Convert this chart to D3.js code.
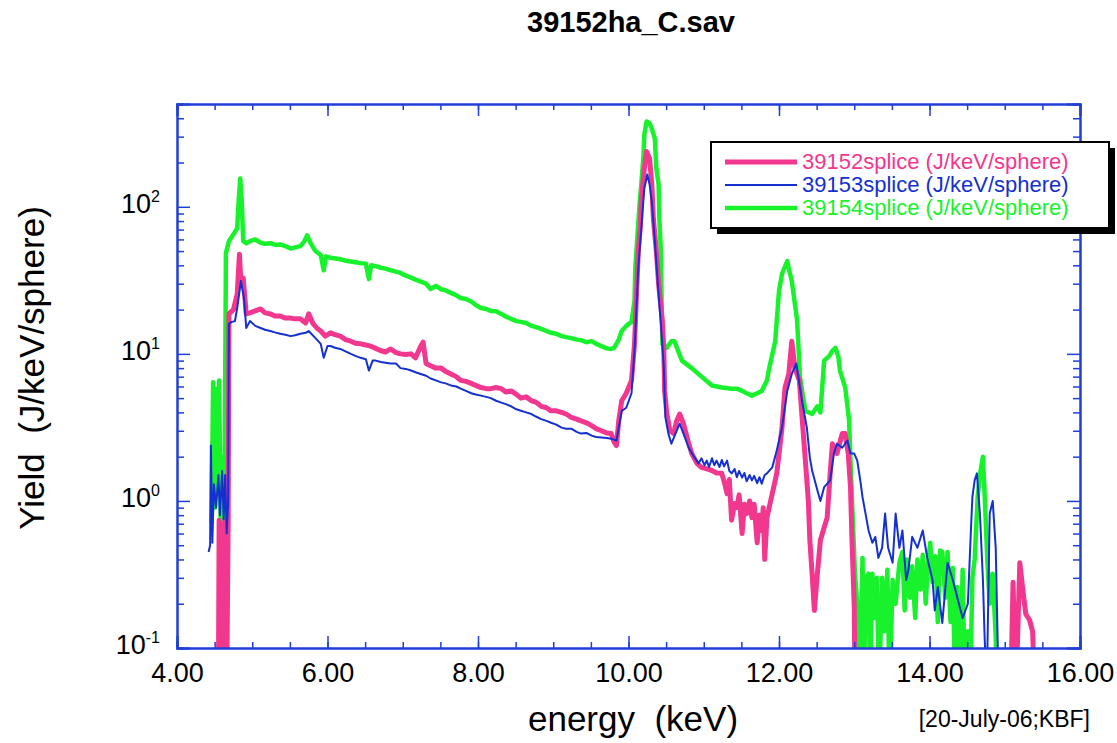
<!DOCTYPE html>
<meta charset="utf-8">
<script src="https://d3js.org/d3.v7.min.js"></script>
<style>
  body { margin: 0; background: #fff; }
  text { font-family: "Liberation Sans", Arial, Helvetica, sans-serif; }
</style>
<body>
<div id="chart"></div>
<script>
// ---- data: [energy keV, yield J/keV/sphere] ----
// values below 0.1 mean the trace drops out of the bottom of the plot
var shot39152 = [
  [4.55,0.05],[4.56,0.74],[4.58,0.05],[4.60,0.70],[4.62,0.05],[4.64,0.74],[4.66,0.05],[4.68,0.72],
  [4.69,18.7],[4.75,20],[4.80,25.5],[4.83,47.6],[4.85,30],[4.88,32.8],[4.92,18.7],[4.97,19],
  [5.04,19.6],[5.11,20.2],[5.17,19],[5.24,18.7],[5.30,18.1],[5.37,18.1],[5.44,17.5],[5.51,17.5],
  [5.57,17.3],[5.64,17.3],[5.71,16.2],[5.75,18.7],[5.81,16],[5.87,14.8],[5.91,14.3],[5.97,13.2],
  [6.04,13.9],[6.10,13.5],[6.17,13.2],[6.24,12.5],[6.31,12.2],[6.37,11.8],[6.44,11.7],[6.51,11.5],
  [6.57,11.3],[6.64,10.9],[6.71,10.5],[6.77,10.3],[6.84,10.8],[6.91,10.2],[6.97,10.0],[7.04,9.9],
  [7.11,10.0],[7.17,9.4],[7.24,11.3],[7.27,12.0],[7.31,8.6],[7.37,8.3],[7.44,8.0],[7.51,8.0],
  [7.57,7.6],[7.64,7.3],[7.71,7.0],[7.77,6.6],[7.84,6.5],[7.91,6.3],[7.97,6.1],[8.04,5.9],
  [8.11,5.8],[8.17,5.8],[8.24,5.9],[8.31,5.8],[8.37,5.5],[8.44,5.6],[8.51,5.3],[8.57,5.0],
  [8.64,5.1],[8.71,4.8],[8.77,4.7],[8.84,4.4],[8.91,4.3],[8.97,4.1],[9.04,4.1],[9.11,4.0],
  [9.17,3.9],[9.24,3.7],[9.31,3.6],[9.37,3.5],[9.44,3.4],[9.51,3.25],[9.57,3.1],[9.64,3.0],
  [9.71,2.9],[9.77,2.87],[9.81,2.5],[9.84,2.38],[9.87,3.5],[9.91,4.8],[9.97,5.4],[10.04,6.6],
  [10.08,11.7],[10.11,28],[10.13,49.9],[10.16,76],[10.17,109],[10.21,182],[10.24,238],[10.28,213],
  [10.31,142],[10.33,83.6],[10.37,49.9],[10.40,29.8],[10.45,16.7],[10.47,10.5],[10.48,5.6],[10.51,3.9],
  [10.55,3.0],[10.60,2.87],[10.64,3.5],[10.68,3.9],[10.73,3.35],[10.79,2.57],[10.84,2.1],[10.91,1.8],
  [10.97,1.69],[11.04,1.65],[11.11,1.61],[11.17,1.55],[11.24,1.54],[11.28,1.3],[11.31,1.12],[11.34,1.4],
  [11.37,0.74],[11.41,0.96],[11.44,0.90],[11.47,1.1],[11.51,0.60],[11.54,0.95],[11.57,0.82],[11.61,1.0],
  [11.64,0.77],[11.67,0.95],[11.71,0.52],[11.74,0.8],[11.77,0.63],[11.79,0.9],[11.81,0.40],[11.84,0.77],
  [11.91,1.12],[11.97,1.54],[12.04,3.15],[12.08,5.9],[12.13,7.3],[12.17,12.2],[12.21,8.0],[12.27,6.6],
  [12.31,3.5],[12.35,1.9],[12.39,1.0],[12.41,0.54],[12.44,0.32],[12.47,0.18],[12.51,0.32],[12.55,0.54],
  [12.60,0.66],[12.64,0.77],[12.68,1.54],[12.71,2.45],[12.77,2.1],[12.84,2.87],[12.88,2.87],[12.92,2.1],
  [12.95,1.24],[12.97,0.54],[13.00,0.19],[13.01,0.05],[15.08,0.05],[15.11,0.28],[15.15,0.05],[15.20,0.38],
  [15.24,0.25],[15.28,0.17],[15.33,0.155],[15.37,0.13],[15.40,0.05]
];

var shot39153 = [
  [4.42,0.45],[4.44,0.50],[4.45,2.38],[4.47,0.52],[4.49,1.3],[4.52,0.9],[4.55,1.5],[4.57,0.8],
  [4.60,1.6],[4.62,0.75],[4.64,1.5],[4.66,0.6],[4.68,1.0],[4.69,16],[4.73,16.5],[4.77,16.7],
  [4.80,20.5],[4.85,31.3],[4.89,24],[4.92,15],[4.97,16.7],[5.04,15.5],[5.11,15],[5.17,14.6],
  [5.24,14.3],[5.30,14],[5.37,13.7],[5.44,13.5],[5.51,13.2],[5.57,13.4],[5.64,13.7],[5.71,13.9],
  [5.75,14.3],[5.84,12.8],[5.91,11.7],[5.95,9.4],[6.00,11.3],[6.04,11.3],[6.10,11],[6.17,10.8],
  [6.24,10.4],[6.31,10.0],[6.37,9.7],[6.44,9.4],[6.51,9.2],[6.55,7.7],[6.60,9.0],[6.64,9.0],
  [6.71,8.8],[6.77,8.7],[6.84,8.6],[6.91,8.6],[6.97,8.0],[7.04,7.9],[7.11,7.7],[7.17,7.5],
  [7.24,7.3],[7.31,7.1],[7.37,6.8],[7.44,6.6],[7.51,6.4],[7.57,6.3],[7.64,6.1],[7.71,6.0],
  [7.77,5.8],[7.84,5.6],[7.91,5.4],[7.97,5.3],[8.04,5.2],[8.11,5.1],[8.17,5.0],[8.24,4.8],
  [8.31,4.66],[8.37,4.55],[8.44,4.4],[8.51,4.2],[8.57,4.1],[8.64,4.0],[8.71,3.9],[8.77,3.75],
  [8.84,3.6],[8.91,3.5],[8.97,3.4],[9.04,3.3],[9.11,3.15],[9.17,3.1],[9.24,3.1],[9.31,2.95],
  [9.37,2.87],[9.44,2.9],[9.51,2.78],[9.57,2.72],[9.64,2.7],[9.71,2.68],[9.77,2.65],[9.84,2.57],
  [9.87,3.15],[9.91,4.1],[9.97,4.3],[10.04,5.4],[10.08,10.5],[10.11,22.9],[10.13,38.3],[10.17,71.5],
  [10.21,133],[10.25,166],[10.28,142],[10.31,109],[10.35,58.4],[10.39,29.8],[10.44,13.7],[10.47,8.0],
  [10.49,3.7],[10.53,2.87],[10.57,2.45],[10.64,3.0],[10.68,3.35],[10.73,2.87],[10.80,2.3],[10.87,2.0],
  [10.93,1.8],[10.97,1.95],[11.01,1.75],[11.04,1.88],[11.07,1.7],[11.11,1.95],[11.14,1.75],[11.17,1.88],
  [11.21,1.7],[11.24,1.9],[11.27,1.72],[11.31,1.88],[11.34,1.6],[11.37,1.54],[11.41,1.65],[11.44,1.45],
  [11.47,1.6],[11.51,1.44],[11.54,1.55],[11.57,1.36],[11.61,1.5],[11.64,1.38],[11.67,1.48],[11.71,1.32],
  [11.74,1.45],[11.77,1.31],[11.81,1.5],[11.84,1.54],[11.91,1.69],[11.97,2.2],
  [12.04,3.15],[12.11,5.6],[12.17,7.3],[12.23,8.6],[12.27,6.3],[12.31,4.66],[12.37,3.15],[12.41,1.97],
  [12.44,1.61],[12.51,1.18],[12.55,1.0],[12.60,1.24],[12.68,1.38],[12.73,2.1],[12.77,2.45],[12.84,2.3],
  [12.91,2.57],[12.95,2.1],[13.00,2.1],[13.04,1.88],[13.08,1.38],[13.11,1.06],[13.15,0.82],[13.19,0.63],
  [13.24,0.52],[13.28,0.57],[13.32,0.41],[13.37,0.48],[13.41,0.82],[13.45,0.48],[13.51,0.38],[13.55,0.82],
  [13.60,0.48],[13.64,0.63],[13.69,0.29],[13.72,0.34],[13.77,0.57],[13.84,0.48],[13.91,0.63],[13.97,0.41],
  [14.04,0.29],[14.07,0.18],[14.11,0.26],[14.17,0.148],[14.24,0.38],[14.31,0.29],[14.37,0.22],[14.44,0.16],
  [14.51,0.20],[14.55,0.63],[14.57,1.06],[14.60,1.38],[14.63,1.54],[14.67,0.82],[14.71,0.29],[14.73,0.13],
  [14.76,0.05],[14.80,0.82],[14.84,1.0],[14.88,0.48],[14.92,0.05]
];

var shot39154 = [
  [4.46,0.70],[4.48,6.4],[4.50,0.9],[4.52,5.8],[4.54,1.2],[4.56,6.6],[4.58,0.74],[4.60,2.0],
  [4.63,0.72],[4.65,48.4],[4.69,58.4],[4.75,65],[4.80,71.5],[4.82,110],[4.84,156],[4.86,110],
  [4.88,58.4],[4.92,56.6],[4.97,58.4],[5.04,60],[5.11,57],[5.17,56],[5.24,56.6],[5.31,55],
  [5.37,55.5],[5.44,54],[5.51,52],[5.57,53],[5.64,54],[5.69,58],[5.73,64],[5.78,56],
  [5.84,50],[5.91,47],[5.95,37],[5.98,46],[6.04,45],[6.11,44.5],[6.17,44],[6.24,43],
  [6.31,42.5],[6.37,42],[6.44,41.4],[6.51,41],[6.55,32.3],[6.58,40],[6.64,39.5],[6.71,38.5],
  [6.77,38],[6.84,37],[6.91,36.2],[6.97,35.5],[7.04,34],[7.11,33],[7.17,32],[7.24,31],
  [7.31,30],[7.37,27.6],[7.44,29],[7.51,27.5],[7.57,27],[7.64,26],[7.71,25],[7.77,24],
  [7.84,23.6],[7.91,22.7],[7.97,21.5],[8.04,20.5],[8.11,20.2],[8.17,19.6],[8.24,19.5],[8.31,18.7],
  [8.37,17.9],[8.44,17.3],[8.51,16.7],[8.57,16.5],[8.64,16.2],[8.71,15.5],[8.77,15.2],[8.84,14.8],
  [8.91,14.3],[8.97,13.9],[9.04,13.7],[9.11,13.2],[9.17,13.0],[9.24,12.8],[9.31,12.5],[9.37,12.4],
  [9.44,12.0],[9.51,12.2],[9.57,11.7],[9.64,11.3],[9.71,10.9],[9.77,10.8],[9.81,11.0],[9.87,12.5],
  [9.91,14.3],[9.97,15.5],[10.04,16.5],[10.08,22.9],[10.09,38.3],[10.12,65],[10.15,109],[10.17,142],
  [10.20,227],[10.21,310],[10.24,380],[10.28,370],[10.31,340],[10.35,291],[10.37,182],[10.40,142],
  [10.41,83.6],[10.43,49.9],[10.44,22.9],[10.45,11.7],[10.51,11.0],[10.57,12.2],[10.61,12.2],[10.71,9.0],
  [10.84,8.0],[10.97,7.0],[11.11,6.1],[11.24,5.9],[11.37,5.8],[11.44,5.8],[11.51,5.6],[11.57,5.4],
  [11.64,5.2],[11.71,5.4],[11.77,5.6],[11.84,6.6],[11.87,8.0],[11.95,12.2],[12.00,26.7],[12.04,35],
  [12.11,42.7],[12.13,38],[12.17,31.3],[12.24,17],[12.28,6.9],[12.35,4.1],[12.44,3.9],[12.51,4.4],
  [12.55,4.0],[12.60,9.0],[12.67,9.7],[12.71,10.5],[12.75,11.0],[12.79,9.5],[12.81,7.7],[12.88,5.9],
  [12.93,3.6],[12.97,1.0],[13.01,0.32],[13.04,0.2],[13.07,0.05],[13.11,0.41],[13.13,0.05],[13.15,0.30],
  [13.19,0.32],[13.21,0.05],[13.24,0.32],[13.27,0.16],[13.30,0.30],[13.33,0.05],[13.37,0.30],[13.40,0.13],
  [13.44,0.34],[13.47,0.05],[13.51,0.29],[13.55,0.20],[13.60,0.38],[13.64,0.45],[13.67,0.18],[13.70,0.40],
  [13.74,0.22],[13.77,0.36],[13.81,0.16],[13.84,0.40],[13.88,0.25],[13.91,0.43],[13.95,0.20],[13.98,0.38],
  [14.01,0.52],[14.04,0.28],[14.08,0.42],[14.11,0.15],[14.14,0.46],[14.17,0.45],[14.21,0.22],[14.24,0.45],
  [14.28,0.15],[14.31,0.35],[14.34,0.05],[14.37,0.26],[14.41,0.05],[14.44,0.34],[14.47,0.05],[14.51,0.13],
  [14.54,0.05],[14.57,0.30],[14.60,0.40],[14.64,1.06],[14.67,1.5],[14.71,2.0],[14.73,1.2],[14.77,0.38],
  [14.80,0.20],[14.84,0.32],[14.88,0.12],[14.90,0.05]
];

var seriesNames = ["39152splice (J/keV/sphere)", "39153splice (J/keV/sphere)", "39154splice (J/keV/sphere)"];
var xMajorTicks = [4, 6, 8, 10, 12, 14, 16];
var yDecades = [0.1, 1, 10, 100];
var yDecadeLabels = [["10", "-1"], ["10", "0"], ["10", "1"], ["10", "2"]];

// ---- layout ----
var W = 1117, H = 743;
var plot = { left: 177, right: 1080, top: 104, bottom: 648 };
var axisBlue = "#1f3fd6";
var colors = ["#f2378f", "#1430d0", "#18f22c"];
var widths = [5, 2, 4.5];

var svg = d3.select("#chart").append("svg")
    .attr("width", W)
    .attr("height", H);

var x = d3.scaleLinear().domain([4, 16]).range([plot.left, plot.right]);
var y = d3.scaleLog().domain([0.1, 500]).range([plot.bottom, plot.top]);

// minor ticks
var xMinor = d3.range(4, 16.01, 0.5);
var yMinor = [];
yDecades.forEach(function(d) {
  for (var k = 2; k <= 9; k++) if (d * k <= 500) yMinor.push(d * k);
});

svg.append("clipPath").attr("id", "clip")
  .append("rect")
    .attr("x", plot.left).attr("y", plot.top)
    .attr("width", plot.right - plot.left).attr("height", plot.bottom - plot.top);

// draw the traces (green under, then pink, blue on top)
var line = d3.line()
    .x(function(d) { return x(d[0]); })
    .y(function(d) { return y(Math.max(d[1], 0.03)); });

var traces = [shot39152, shot39153, shot39154];
[2, 0, 1].forEach(function(i) {
  svg.append("path")
    .datum(traces[i])
    .attr("clip-path", "url(#clip)")
    .attr("fill", "none")
    .attr("stroke", colors[i])
    .attr("stroke-width", widths[i])
    .attr("stroke-linejoin", "round")
    .attr("d", line);
});

// ---- axes (ticks pointing inside on all four sides) ----
function styleAxis(g) {
  g.selectAll("path").attr("stroke", axisBlue).attr("stroke-width", 2);
  g.selectAll("line").attr("stroke", axisBlue).attr("stroke-width", 1.5);
}

// bottom
svg.append("g").attr("transform", "translate(0," + plot.bottom + ")")
  .call(d3.axisBottom(x).tickValues(xMinor).tickSize(-6).tickFormat(""))
  .call(styleAxis);
var xb = svg.append("g").attr("transform", "translate(0," + plot.bottom + ")")
  .call(d3.axisBottom(x).tickValues(xMajorTicks).tickSize(-12).tickPadding(15)
    .tickFormat(function(d) { return d3.format(".2f")(d); }))
  .call(styleAxis);
xb.selectAll("text").attr("fill", "#000").style("font-size", "27px");

// top
svg.append("g").attr("transform", "translate(0," + plot.top + ")")
  .call(d3.axisTop(x).tickValues(xMinor).tickSize(-6).tickFormat(""))
  .call(styleAxis);
svg.append("g").attr("transform", "translate(0," + plot.top + ")")
  .call(d3.axisTop(x).tickValues(xMajorTicks).tickSize(-12).tickFormat(""))
  .call(styleAxis);

// left
svg.append("g").attr("transform", "translate(" + plot.left + ",0)")
  .call(d3.axisLeft(y).tickValues(yMinor).tickSize(-7).tickFormat(""))
  .call(styleAxis);
svg.append("g").attr("transform", "translate(" + plot.left + ",0)")
  .call(d3.axisLeft(y).tickValues(yDecades).tickSize(-13).tickFormat(""))
  .call(styleAxis);

// right
svg.append("g").attr("transform", "translate(" + plot.right + ",0)")
  .call(d3.axisRight(y).tickValues(yMinor).tickSize(-7).tickFormat(""))
  .call(styleAxis);
svg.append("g").attr("transform", "translate(" + plot.right + ",0)")
  .call(d3.axisRight(y).tickValues(yDecades).tickSize(-13).tickFormat(""))
  .call(styleAxis);

// y tick labels with superscript exponents
yDecades.forEach(function(d, i) {
  var t = svg.append("text")
    .attr("x", 160)
    .attr("y", y(d) + 6)
    .attr("text-anchor", "end")
    .style("font-size", "27px")
    .attr("fill", "#000");
  t.append("tspan").text(yDecadeLabels[i][0]);
  t.append("tspan").attr("dy", -11).style("font-size", "16px").text(yDecadeLabels[i][1]);
});

// ---- texts ----
svg.append("text")
  .attr("x", 631).attr("y", 32)
  .attr("text-anchor", "middle")
  .style("font-size", "29px").style("font-weight", "bold")
  .text("39152ha_C.sav");

svg.append("text")
  .attr("x", 633).attr("y", 731)
  .attr("text-anchor", "middle")
  .style("font-size", "35px").style("white-space", "pre")
  .text("energy  (keV)");

svg.append("text")
  .attr("transform", "translate(44,368) rotate(-90)")
  .attr("text-anchor", "middle")
  .style("font-size", "35px").style("white-space", "pre")
  .text("Yield  (J/keV/sphere)");

svg.append("text")
  .attr("x", 1090).attr("y", 727)
  .attr("text-anchor", "end")
  .style("font-size", "23px")
  .text("[20-July-06;KBF]");

// ---- legend ----
var leg = { x: 711, y: 142, w: 398, h: 86 };
svg.append("rect")
  .attr("x", leg.x + 6).attr("y", leg.y + 6)
  .attr("width", leg.w).attr("height", leg.h)
  .attr("fill", "#000");
svg.append("rect")
  .attr("x", leg.x).attr("y", leg.y)
  .attr("width", leg.w).attr("height", leg.h)
  .attr("fill", "#fff").attr("stroke", "#000").attr("stroke-width", 2);

seriesNames.forEach(function(name, i) {
  var ly = leg.y + 20 + i * 23;
  svg.append("line")
    .attr("x1", leg.x + 14).attr("x2", leg.x + 86)
    .attr("y1", ly).attr("y2", ly)
    .attr("stroke", colors[i]).attr("stroke-width", widths[i]);
  svg.append("text")
    .attr("x", leg.x + 91).attr("y", ly + 7)
    .attr("fill", colors[i])
    .style("font-size", "22px")
    .text(name);
});
</script>
</body>
